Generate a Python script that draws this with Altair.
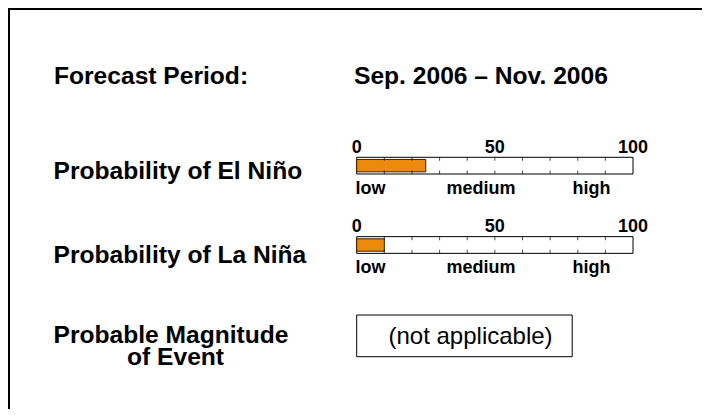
import altair as alt
import pandas as pd

FONT = "Liberation Sans"

# ---- data ----
events = ["El Niño", "La Niña"]
probabilities = [25, 10]            # percent
scale_labels = [0, 50, 100]
minor_ticks = [10, 20, 30, 40, 50, 60, 70, 80, 90]
level_names = ["low", "medium", "high"]
level_pos = [5, 45, 85]
row_titles = ["Probability of El Niño", "Probability of La Niña"]
period_label = "Forecast Period:"
period_text = "Sep. 2006 – Nov. 2006"
magnitude_title = ["Probable Magnitude", "of Event"]
magnitude_text = "(not applicable)"
magnitude_box = [0, 78]

W, H = 694, 401
BIG = 24.6

bars_df = pd.DataFrame({"event": events, "prob": probabilities,
                        "lo": [0] * len(events), "hi": [100] * len(events)})
ticks_df = pd.DataFrame([{"event": e, "v": t} for e in events for t in minor_ticks])
lab_df = pd.DataFrame([{"event": e, "v": v, "t": str(v)} for e in events for v in scale_labels])
lev_df = pd.DataFrame([{"event": e, "v": p, "t": n} for e in events for n, p in zip(level_names, level_pos)])
box_df = pd.DataFrame({"a": [magnitude_box[0]], "b": [magnitude_box[1]]})

xs = alt.Scale(domain=[0, 100], range=[348.7, 625])
ys = alt.Scale(type="point", domain=events, range=[157.65, 237], padding=0)

X = lambda f: alt.X(f, scale=xs, axis=None)
Y = alt.Y("event:N", scale=ys, axis=None)

base_bars = alt.Chart(bars_df)

outline = base_bars.mark_bar(height=16.7, fill="white", stroke="black", strokeWidth=1).encode(
    x=X("lo:Q"), x2="hi:Q", y=Y)
fill = base_bars.mark_bar(height=12.4, fill="#EC8A0C", stroke="#3a2200", strokeWidth=1).encode(
    x=X("lo:Q"), x2="prob:Q", y=Y)

ticks_top = alt.Chart(ticks_df).mark_tick(size=3.5, thickness=1, color="black", yOffset=-6.6).encode(
    x=X("v:Q"), y=Y)
ticks_bot = alt.Chart(ticks_df).mark_tick(size=3.5, thickness=1, color="black", yOffset=6.6).encode(
    x=X("v:Q"), y=Y)

num_labels = alt.Chart(lab_df).mark_text(font=FONT, fontSize=18, fontWeight="bold", align="center",
                                          baseline="alphabetic", dy=-13, color="black").encode(
    x=X("v:Q"), y=Y, text="t:N")
lev_labels = alt.Chart(lev_df).mark_text(font=FONT, fontSize=18, fontWeight="bold", align="center",
                                          baseline="alphabetic", dy=28.4, color="black").encode(
    x=X("v:Q"), y=Y, text="t:N")

mag_box = alt.Chart(box_df).mark_rect(fill="white", stroke="black", strokeWidth=1).encode(
    x=X("a:Q"), x2="b:Q", y=alt.value(307), y2=alt.value(348.7))


def label(txt, x, y, bold=True, size=BIG):
    return alt.Chart(pd.DataFrame({"t": [txt]})).mark_text(
        font=FONT, fontSize=size, fontWeight="bold" if bold else "normal",
        align="left", baseline="alphabetic", color="black").encode(
        x=alt.value(x), y=alt.value(y), text="t:N")


texts = [
    label(period_label, 46, 76),
    label(period_text, 346, 75.5),
    label(row_titles[0], 45.5, 170.5),
    label(row_titles[1], 45.5, 254.8),
    label(magnitude_title[0], 45.5, 334.5),
    label(magnitude_title[1], 119, 357),
    label(magnitude_text, 380.5, 335.5, bold=False, size=24),
]

frame_df = pd.DataFrame({"k": [0]})
frame_top = alt.Chart(frame_df).mark_rule(color="black", strokeWidth=2).encode(
    x=alt.value(0), x2=alt.value(W), y=alt.value(1))
frame_left = alt.Chart(frame_df).mark_rule(color="black", strokeWidth=2).encode(
    x=alt.value(1), y=alt.value(0), y2=alt.value(H))

chart = alt.layer(
    frame_top, frame_left, outline, fill, ticks_top, ticks_bot, num_labels, lev_labels,
    mag_box, *texts
).properties(
    width=W, height=H, autosize=alt.AutoSizeParams(type="none"), padding=0
).configure_view(stroke=None).configure(background="white")

chart.save("out.html", embed_options={"renderer": "svg", "actions": False})
